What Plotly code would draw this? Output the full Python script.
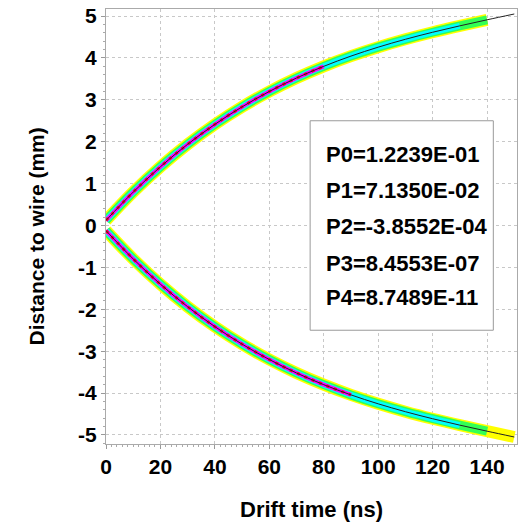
import plotly.graph_objects as go

# ---- data ----
t_fit = [0, 10, 20, 30, 40, 50, 60, 70, 80, 90, 100, 110, 120, 130, 140, 150]
d_fit_upper = [0.122, 0.798, 1.402, 1.939, 2.414, 2.832, 3.199, 3.520, 3.799,
               4.043, 4.256, 4.444, 4.612, 4.765, 4.909, 5.048]
d_fit_lower = [-0.122, -0.798, -1.402, -1.939, -2.414, -2.832, -3.199, -3.520, -3.799,
               -4.043, -4.256, -4.444, -4.612, -4.765, -4.909, -5.048]

# extent (number of fit points) covered by each colour layer of the hit cloud
n_yellow_upper, n_yellow_lower = 15, 16
n_green_upper, n_green_lower = 15, 15
n_cyan_upper, n_cyan_lower = 14, 14
n_magenta_upper, n_magenta_lower = 9, 10

param_labels = ["P0=1.2239E-01", "P1=7.1350E-02", "P2=-3.8552E-04",
                "P3=8.4553E-07", "P4=8.7489E-11"]

x_ticks = [0, 20, 40, 60, 80, 100, 120, 140]
x_tick_text = ["0", "20", "40", "60", "80", "100", "120", "140"]
y_ticks = [-5, -4, -3, -2, -1, 0, 1, 2, 3, 4, 5]
y_tick_text = ["-5", "-4", "-3", "-2", "-1", "0", "1", "2", "3", "4", "5"]

x_title = "Drift time (ns)"
y_title = "Distance to wire (mm)"

# ---- figure ----
fig = go.Figure()

layers = [
    ("#ffff00", 12, None, n_yellow_upper, n_yellow_lower),
    ("#33ff55", 9, None, n_green_upper, n_green_lower),
    ("#00ffff", 6, None, n_cyan_upper, n_cyan_lower),
    ("#ff00ff", 4, None, n_magenta_upper, n_magenta_lower),
    ("#ff0033", 3, "3px,5px", n_magenta_upper, n_magenta_lower),
]
for color, width, dash, nu, nl in layers:
    for d, n in ((d_fit_upper, nu), (d_fit_lower, nl)):
        fig.add_trace(go.Scatter(
            x=t_fit[:n], y=d[:n], mode="lines",
            line=dict(color=color, width=width, shape="spline", dash=dash),
            hoverinfo="skip", showlegend=False))

for d in (d_fit_upper, d_fit_lower):
    fig.add_trace(go.Scatter(
        x=t_fit, y=d, mode="lines",
        line=dict(color="#222222", width=1, shape="spline"),
        showlegend=False))

FONT = "Liberation Sans, Arial"

# parameter box
fig.add_shape(type="rect", xref="x", yref="y", x0=75.0, x1=142.3, y0=-2.5, y1=2.5,
              line=dict(color="#9a9a9a", width=1), fillcolor="white", layer="above")
ys = [1.70, 0.84, -0.02, -0.90, -1.73]
for lab, yv in zip(param_labels, ys):
    fig.add_annotation(x=80.0, y=yv, xref="x", yref="y", text="<b>%s</b>" % lab,
                       showarrow=False, xanchor="left", yanchor="middle",
                       font=dict(family=FONT, size=22, color="black"))

# axis titles
fig.add_annotation(x=0.499, y=-0.151, xref="paper", yref="paper",
                   text="<b>%s</b>" % x_title, showarrow=False,
                   xanchor="center", yanchor="middle",
                   font=dict(family=FONT, size=22, color="black"))
fig.add_annotation(x=-0.168, y=0.477, xref="paper", yref="paper",
                   text="<b>%s</b>" % y_title, showarrow=False, textangle=-90,
                   xanchor="center", yanchor="middle",
                   font=dict(family=FONT, size=21, color="black"))

axis_font = dict(family=FONT, size=21, color="black")
fig.update_layout(
    width=518, height=528,
    margin=dict(l=106, r=1, t=9, b=84),
    paper_bgcolor="white", plot_bgcolor="white",
    font=dict(family=FONT, color="black"),
    hovermode=False,
    xaxis=dict(
        range=[0, 151], tickvals=x_ticks,
        ticktext=["<b>%s</b>" % s for s in x_tick_text],
        tickfont=axis_font, ticks="outside", ticklen=4, tickcolor="#999999",
        showline=True, linecolor="#aaaaaa", linewidth=1, mirror=True,
        showgrid=True, gridcolor="#c8c8c8", griddash="dot", gridwidth=1,
        zeroline=False, automargin=False, ticklabeloverflow="allow",
        minor=dict(dtick=2, ticks="outside", ticklen=2, tickcolor="#aaaaaa", showgrid=False),
    ),
    yaxis=dict(
        range=[-5.215, 5.167], tickvals=y_ticks,
        ticktext=["<b>%s</b>" % s for s in y_tick_text],
        tickfont=axis_font, ticks="outside", ticklen=4, tickcolor="#999999",
        showline=True, linecolor="#aaaaaa", linewidth=1, mirror=True,
        showgrid=True, gridcolor="#c8c8c8", griddash="dot", gridwidth=1,
        zeroline=False, automargin=False, ticklabeloverflow="allow",
        minor=dict(dtick=0.2, ticks="outside", ticklen=2, tickcolor="#aaaaaa", showgrid=False),
    ),
)

fig.write_html("out.html", config={"displayModeBar": False},
               post_script="document.body.style.margin='0';")
